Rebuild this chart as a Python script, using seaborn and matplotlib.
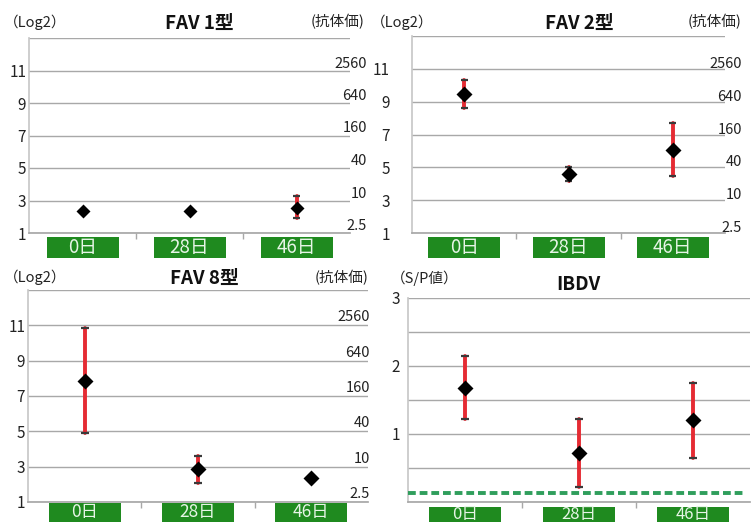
import numpy as np
import pandas as pd
import matplotlib
matplotlib.use("Agg")
import matplotlib.pyplot as plt
import matplotlib.transforms as mtransforms
from matplotlib.patches import Rectangle
import seaborn as sns

# ---------------- data ----------------
days = ["0日", "28日", "46日"]
log2_ticks = [1, 3, 5, 7, 9, 11]
titer_labels = ["2.5", "10", "40", "160", "640", "2560"]
sp_tick_labels = ["1", "2", "3"]

fav1_mean = [2.35, 2.35, 2.55]
fav1_low = [2.35, 2.35, 1.9]
fav1_high = [2.35, 2.35, 3.3]

fav2_mean = [9.45, 4.6, 6.05]
fav2_low = [8.6, 4.15, 4.5]
fav2_high = [10.3, 5.05, 7.7]

fav8_mean = [7.85, 2.85, 2.35]
fav8_low = [4.9, 2.1, 2.35]
fav8_high = [10.85, 3.6, 2.35]

ibdv_mean = [1.67, 0.72, 1.2]
ibdv_low = [1.22, 0.22, 0.65]
ibdv_high = [2.15, 1.22, 1.75]
ibdv_cutoff = 0.13

# ---------------- style ----------------
sns.set_theme(style="white")
plt.rcParams["font.family"] = ["Noto Sans CJK JP", "DejaVu Sans"]

W, H = 751, 522
fig = plt.figure(figsize=(W / 100, H / 100), dpi=100)
fig.patch.set_facecolor("white")

GRID = "#a8a8a8"
RED = "#e52b33"
CAP = "#3a3a3a"
GREEN_BOX = "#1f8a1f"
BOX_TXT = "#e6f5e6"


def px_axes(l, t, r, b):
    return fig.add_axes([l / W, 1 - b / H, (r - l) / W, (b - t) / H])


def ftext(x, y, s, **kw):
    fig.text(x / W, 1 - y / H, s, **kw)


def draw_panel(ax, mean, low, high, ms):
    rows = []
    for d, lo, m, hi in zip(days, low, mean, high):
        for v in (lo, m, hi):
            rows.append({"day": d, "value": v})
    df = pd.DataFrame(rows)
    sns.pointplot(data=df, x="day", y="value", order=days, estimator="median",
                  errorbar=("pi", 100), color="black", markers="D",
                  linestyle="none", markersize=ms, capsize=0,
                  err_kws={"color": RED, "linewidth": 2.8}, ax=ax)
    for ln in ax.lines:
        if ln.get_marker() == "D":
            ln.set_zorder(4)
        else:
            ln.set_zorder(2)
    xs = np.arange(len(days))
    ax.hlines(low, xs - 0.035, xs + 0.035, color=CAP, lw=1.6, zorder=3)
    ax.hlines(high, xs - 0.035, xs + 0.035, color=CAP, lw=1.6, zorder=3)
    ax.set_xlim(-0.5, 2.5)
    ax.set_xlabel("")
    ax.set_ylabel("")
    ax.set_xticks([])
    ax.set_xticks([0.5, 1.5], minor=True)
    ax.tick_params(axis="x", which="minor", length=4, color=GRID, width=1,
                   direction="out", bottom=True)
    ax.yaxis.grid(True, color=GRID, lw=1)
    ax.set_axisbelow(True)
    for s in ("top", "right"):
        ax.spines[s].set_visible(False)
    ax.spines["left"].set_color("#c8c8c8")
    ax.spines["bottom"].set_color(GRID)
    ax.patch.set_alpha(0)


def day_boxes(ax, box_top_px, text_y_px, box_w_px=72, box_h_px=24, fs=13.5):
    bbox = ax.get_position()
    cat_px = bbox.width * W / 3.0
    wdata = box_w_px / cat_px
    tr = mtransforms.blended_transform_factory(ax.transData, fig.transFigure)
    for i, d in enumerate(days):
        rect = Rectangle((i - wdata / 2, 1 - (box_top_px + box_h_px) / H),
                         wdata, box_h_px / H, transform=tr,
                         facecolor=GREEN_BOX, edgecolor="none",
                         clip_on=False, zorder=5)
        fig.add_artist(rect)
        fig.text(i, 1 - text_y_px / H, d, transform=tr,
                 ha="center", va="center", fontsize=fs, color=BOX_TXT, zorder=6)


def right_labels(ax, x_px_right, dy_px):
    tr = mtransforms.blended_transform_factory(fig.transFigure, ax.transData)
    for v, lbl in zip(log2_ticks, titer_labels):
        t = mtransforms.offset_copy(tr, fig=fig, x=0, y=dy_px, units="dots")
        ax.text(x_px_right / W, v, lbl, transform=t, ha="right", va="center",
                fontsize=10.5, color="#222222", clip_on=False)


def log2_axis(ax, pad):
    ax.set_ylim(1, 13)
    ax.set_yticks(log2_ticks + [13])
    ax.set_yticklabels([str(v) for v in log2_ticks] + [""])
    ax.tick_params(axis="y", length=0, pad=pad, labelsize=11, labelcolor="#222222")


HDR = dict(fontsize=10.5, va="center", color="#222222")
TTL = dict(fontsize=13.5, fontweight="bold", va="center", ha="center", color="#111111")

# ---------------- panel 1 ----------------
ax1 = px_axes(29, 38, 350, 233)
draw_panel(ax1, fav1_mean, fav1_low, fav1_high, ms=5)
log2_axis(ax1, 2)
right_labels(ax1, 367, 7)
day_boxes(ax1, 237, 247, box_w_px=72, box_h_px=21)
ftext(4, 22, "（Log2）", ha="left", **HDR)
ftext(338, 22, "(抗体価)", ha="center", **HDR)
ftext(199, 23, "FAV 1型", **TTL)

# ---------------- panel 2 ----------------
ax2 = px_axes(412, 36, 725, 233)
draw_panel(ax2, fav2_mean, fav2_low, fav2_high, ms=6.5)
log2_axis(ax2, 16)
right_labels(ax2, 742, 5)
day_boxes(ax2, 237, 247, box_w_px=72, box_h_px=21)
ftext(371, 22, "（Log2）", ha="left", **HDR)
ftext(715, 22, "(抗体価)", ha="center", **HDR)
ftext(579, 23, "FAV 2型", **TTL)

# ---------------- panel 3 ----------------
ax3 = px_axes(28, 290, 368, 502)
draw_panel(ax3, fav8_mean, fav8_low, fav8_high, ms=6.5)
log2_axis(ax3, 2)
right_labels(ax3, 370, 8)
day_boxes(ax3, 503, 512, box_w_px=72, box_h_px=24, fs=12.5)
ftext(4, 277, "（Log2）", ha="left", **HDR)
ftext(342, 278, "(抗体価)", ha="center", **HDR)
ftext(204, 278, "FAV 8型", **TTL)

# ---------------- panel 4 ----------------
ax4 = px_axes(408, 298, 750, 502)
draw_panel(ax4, ibdv_mean, ibdv_low, ibdv_high, ms=6.5)
ax4.set_ylim(0, 3)
yt = [0, 0.5, 1, 1.5, 2, 2.5, 3]
ax4.set_yticks(yt)
ax4.set_yticklabels(["", "", sp_tick_labels[0], "", sp_tick_labels[1], "", sp_tick_labels[2]])
ax4.tick_params(axis="y", length=0, pad=6, labelsize=11, labelcolor="#222222")
ax4.axhline(ibdv_cutoff, xmin=0, xmax=(745 - 408) / (750 - 408), color="#2f9e5c",
            lw=2.8, dashes=(2, 1), zorder=3)
day_boxes(ax4, 507, 514, box_w_px=72, box_h_px=24, fs=12)
ftext(391, 278, "（S/P値）", ha="left", **HDR)
ftext(578, 285, "IBDV", **TTL)

fig.savefig("out.png", dpi=100, facecolor="white")
